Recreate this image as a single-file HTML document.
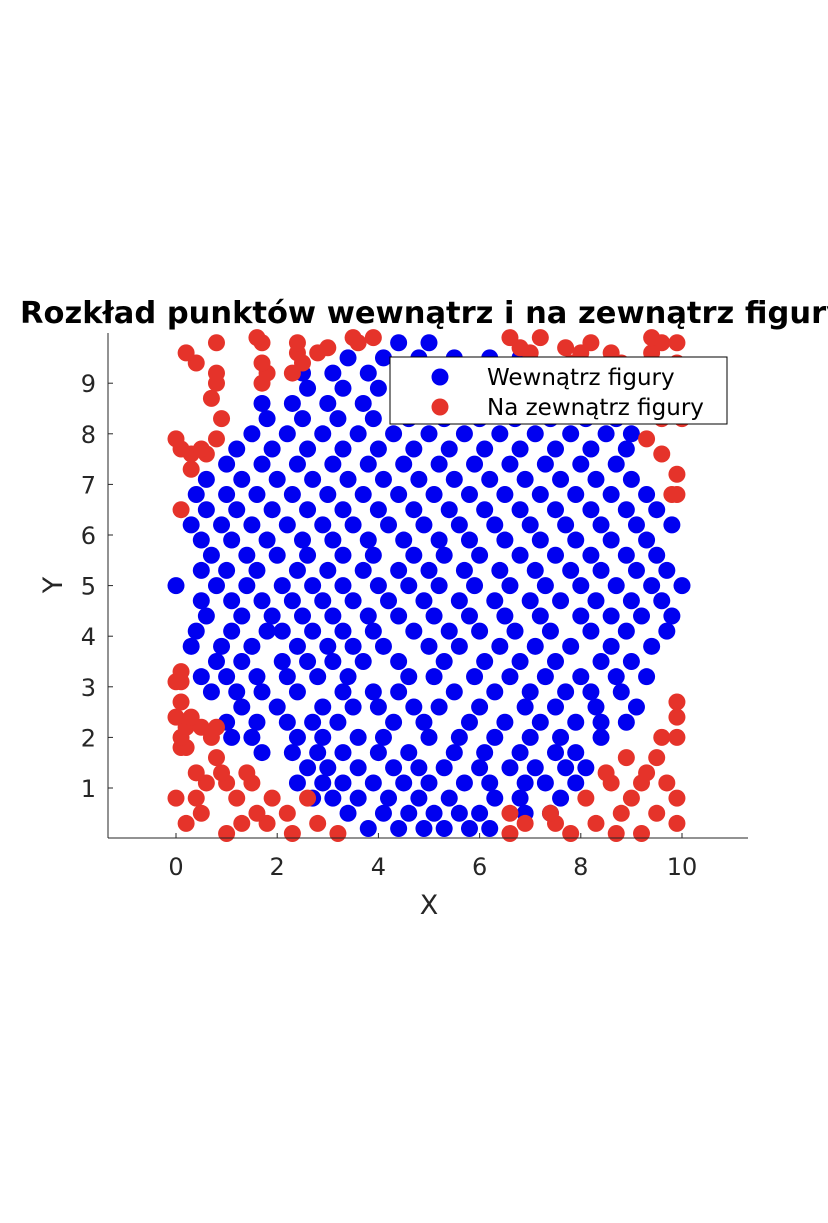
<!DOCTYPE html>
<html><head><meta charset="utf-8"><style>
body{margin:0;background:#fff;}
svg{display:block;font-family:"Liberation Sans","DejaVu Sans",sans-serif;}
</style></head><body>
<svg id="chart" width="828" height="1223" viewBox="0 0 828 1223">
<rect width="828" height="1223" fill="#fff"/>
<text x="20" y="323" text-anchor="start" font-size="30.5" font-weight="bold" fill="#000" font-family="DejaVu Sans, Liberation Sans, sans-serif">Rozkład punktów wewnątrz i na zewnątrz figury</text>
<g id="pts"></g>
<g id="axes"></g>
<g>
<rect x="390" y="357" width="337" height="67" fill="#fff" stroke="#000" stroke-width="1"/>
<circle cx="440" cy="377" r="8.5" fill="#0000f0"/>
<text x="487" y="385" font-size="23" fill="#000" font-family="DejaVu Sans, Liberation Sans, sans-serif">Wewnątrz figury</text>
<circle cx="440" cy="407" r="8.5" fill="#e5332a"/>
<text x="487" y="415" font-size="23" fill="#000" font-family="DejaVu Sans, Liberation Sans, sans-serif">Na zewnątrz figury</text>
</g>
</svg>
<script>
const xTicks=[0,2,4,6,8,10];
const yTicks=[1,2,3,4,5,6,7,8,9];
const blueRowY=[0.2,0.5,0.8,1.1,1.4,1.7,2.0,2.3,2.6,2.9,3.2,3.5,3.8,4.1,4.4,4.7,5.0,5.3,5.6,5.9,6.2,6.5,6.8,7.1,7.4,7.7,8.0,8.3,8.6,8.9,9.2,9.5,9.8];
const blueRowX=[
[3.8,4.4,4.9,5.3,5.8,6.2],
[3.4,4.1,4.6,5.1,5.6,6.0,6.9,7.4],
[2.7,3.1,3.6,4.2,4.8,5.4,6.3,6.8,7.6],
[2.4,2.9,3.3,3.9,4.5,5.0,5.7,6.2,6.9,7.3,7.9],
[2.6,3.0,3.6,4.3,4.8,5.3,6.0,6.6,7.1,7.7,8.1],
[1.7,2.3,2.8,3.3,4.0,4.6,5.5,6.1,6.8,7.5,7.9],
[1.1,1.5,2.4,2.9,3.6,4.1,5.0,5.6,6.3,7.0,7.6,8.4],
[1.0,1.6,2.2,2.7,3.2,4.3,4.9,5.8,6.5,7.2,7.9,8.4,8.9],
[1.3,2.0,2.9,3.5,4.0,4.7,5.2,6.0,6.9,7.5,8.3,9.1],
[0.7,1.2,1.7,2.4,3.3,3.9,4.4,5.5,6.3,7.0,7.7,8.2,8.8],
[0.5,1.0,1.6,2.2,2.8,3.4,4.6,5.1,5.9,6.6,7.3,8.0,8.7,9.3],
[0.8,1.3,2.1,2.6,3.1,3.7,4.4,5.3,6.1,6.8,7.5,8.4,9.0],
[0.3,0.9,1.5,2.4,3.0,3.5,4.1,5.0,5.6,6.4,7.1,7.8,8.6,9.4],
[0.4,1.1,1.8,2.1,2.7,3.3,3.9,4.7,5.4,6.0,6.7,7.4,8.2,8.9,9.7],
[0.6,1.3,1.9,2.5,3.1,3.8,4.4,5.1,5.8,6.5,7.2,8.0,8.6,9.2,9.8],
[0.5,1.1,1.7,2.3,2.9,3.5,4.2,4.9,5.6,6.3,7.0,7.6,8.3,9.0,9.6],
[0.0,0.8,1.4,2.1,2.7,3.3,4.0,4.6,5.2,5.9,6.6,7.3,8.0,8.7,9.4,10.0],
[0.5,1.0,1.6,2.4,3.0,3.7,4.4,5.0,5.7,6.4,7.1,7.8,8.4,9.1,9.7],
[0.7,1.4,2.0,2.6,3.3,3.9,4.7,5.3,6.0,6.8,7.5,8.2,8.9,9.5],
[0.5,1.1,1.8,2.5,3.1,3.8,4.5,5.2,5.8,6.5,7.2,7.9,8.6,9.3],
[0.3,0.9,1.5,2.2,2.9,3.5,4.2,4.9,5.6,6.3,7.0,7.7,8.4,9.1,9.8],
[0.6,1.2,1.9,2.6,3.3,4.0,4.7,5.4,6.1,6.8,7.5,8.2,8.9,9.5],
[0.4,1.0,1.6,2.3,3.0,3.7,4.4,5.1,5.8,6.5,7.2,7.9,8.6,9.3],
[0.6,1.3,2.0,2.7,3.4,4.1,4.8,5.5,6.2,6.9,7.6,8.3,9.0],
[1.0,1.7,2.4,3.1,3.8,4.5,5.2,5.9,6.6,7.3,8.0,8.7],
[1.2,1.9,2.6,3.3,4.0,4.7,5.4,6.1,6.8,7.5,8.2,8.9],
[1.5,2.2,2.9,3.6,4.3,5.0,5.7,6.4,7.1,7.8,8.5,9.0],
[1.8,2.5,3.2,3.9,4.6,5.3,6.0,6.7,7.4,8.1,8.7],
[1.7,2.3,3.0,3.7,4.4,5.1,5.8,6.5,7.2,7.9],
[2.6,3.3,4.0,4.7,5.4,6.1,6.8,7.5],
[2.5,3.1,3.8,4.5,5.2,5.9,6.6,7.2],
[3.4,4.1,4.8,5.5,6.2,6.8],
[4.4,5.0]];
const redRowY=[0.1,0.3,0.5,0.8,1.1,1.3,1.6,1.8,2.0,2.2,2.4,2.7,3.1,3.3,6.5,6.8,7.2,7.3,7.6,7.7,7.9,8.3,8.7,9.0,9.2,9.4,9.6,9.7,9.8,9.9];
const redRowX=[
[1.0,2.3,3.2,6.6,7.8,8.7,9.2],
[0.2,1.3,1.8,2.8,6.9,7.5,8.3,9.9],
[0.5,1.6,2.2,6.6,7.4,8.8,9.5],
[0.0,0.4,1.2,1.9,2.6,8.1,9.0,9.9],
[0.6,1.0,1.5,8.6,9.2,9.7],
[0.4,0.9,1.4,8.5,9.3],
[0.8,8.9,9.5],
[0.1,0.2],
[0.1,0.7,9.6,9.9],
[0.2,0.5,0.8],
[0.0,0.3,9.9],
[0.1,9.9],
[0.0,0.1],
[0.1],
[0.1],
[9.8,9.9],
[9.9],
[0.3],
[0.3,0.6,9.6],
[0.1,0.5],
[0.0,0.8,9.3],
[0.9,9.6,10.0],
[0.7,9.9],
[0.8,1.7,9.4,9.8],
[0.8,1.8,2.3,9.0,9.4],
[0.4,1.7,2.5,7.8,8.8,9.9],
[0.2,2.4,2.8,7.0,8.0,8.6,9.4],
[3.0,6.8,7.7],
[0.8,1.7,2.4,3.6,8.2,9.6,9.9],
[1.6,3.5,3.9,6.6,7.2,9.4]];

const NS="http://www.w3.org/2000/svg";
const X0=176,X1=682,Y0=838.6,PU=50.6;
function sx(v){return X0+(X1-X0)*v/10;}
function sy(v){return Y0-PU*v;}
const pts=document.getElementById('pts');
const axes=document.getElementById('axes');
function dot(x,y,c,name){
  const e=document.createElementNS(NS,'circle');
  e.setAttribute('cx',sx(x));e.setAttribute('cy',sy(y));e.setAttribute('r',8.5);e.setAttribute('fill',c);
  
  
  pts.appendChild(e);
}
blueRowY.forEach((y,i)=>blueRowX[i].forEach(x=>dot(x,y,'#0000f0','inside-point')));
redRowY.forEach((y,i)=>redRowX[i].forEach(x=>dot(x,y,'#e5332a','outside-point')));
function el(tag,attrs,txt){const e=document.createElementNS(NS,tag);for(const k in attrs)e.setAttribute(k,attrs[k]);if(txt!==undefined)e.textContent=txt;axes.appendChild(e);return e;}
let a=el('line',{x1:108,y1:838,x2:748,y2:838,stroke:'#262626','stroke-width':1});


a=el('line',{x1:108,y1:333,x2:108,y2:838,stroke:'#262626','stroke-width':1});


xTicks.forEach(v=>{
  const t=el('line',{x1:sx(v),y1:838,x2:sx(v),y2:833,stroke:'#262626'});
  
  
  const l=el('text',{x:sx(v),y:875,'text-anchor':'middle','font-size':24,fill:'#262626','font-family':'DejaVu Sans, Liberation Sans, sans-serif'},String(v));
  
  
});
yTicks.forEach(v=>{
  const t=el('line',{x1:108,y1:sy(v),x2:113,y2:sy(v),stroke:'#262626'});
  
  
  const l=el('text',{x:96,y:sy(v)+9,'text-anchor':'end','font-size':24,fill:'#262626','font-family':'DejaVu Sans, Liberation Sans, sans-serif'},String(v));
  
  
});
a=el('text',{x:429,y:914,'text-anchor':'middle','font-size':27,fill:'#262626','font-family':'DejaVu Sans, Liberation Sans, sans-serif'},'X');


a=el('text',{x:52,y:585,'text-anchor':'middle','font-size':27,fill:'#262626','font-family':'DejaVu Sans, Liberation Sans, sans-serif',transform:'rotate(-90 52 585)',dy:'10'},'Y');


</script>
</body></html>
